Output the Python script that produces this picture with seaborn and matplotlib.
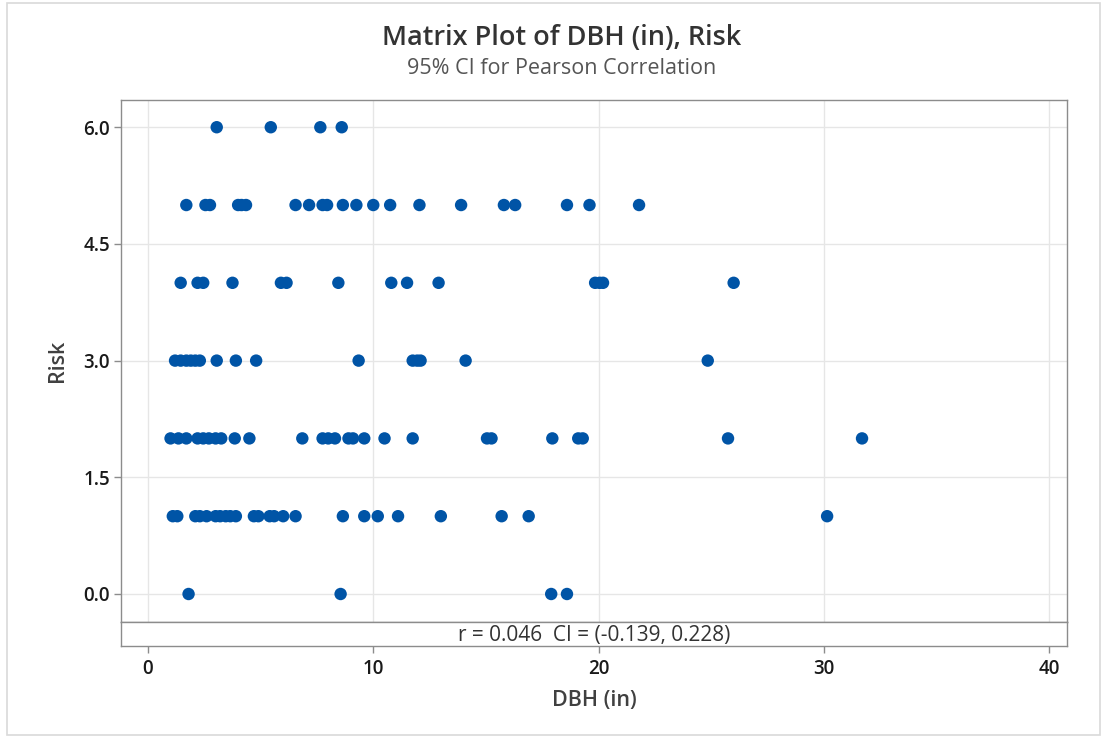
import matplotlib
matplotlib.use("Agg")
import matplotlib.pyplot as plt
import seaborn as sns
import pandas as pd
from matplotlib.patches import Rectangle

# ---- data ----
dbh_risk6 = [3.05, 5.45, 7.65, 8.6]
dbh_risk5 = [1.7, 2.55, 2.75, 4.0, 4.15, 4.35, 6.55, 7.15, 7.75, 7.95, 8.65, 9.25,
             10.0, 10.75, 12.05, 13.9, 15.8, 16.3, 18.6, 19.6, 21.8]
dbh_risk4 = [1.45, 2.2, 2.45, 3.75, 5.9, 6.15, 8.45, 10.8, 11.5, 12.9, 19.85, 20.05,
             20.2, 26.0]
dbh_risk3 = [1.2, 1.45, 1.7, 1.9, 2.1, 2.3, 3.05, 3.9, 4.8, 9.35, 11.75, 11.95, 12.1,
             14.1, 24.85]
dbh_risk2 = [1.0, 1.35, 1.7, 2.2, 2.45, 2.7, 3.0, 3.25, 3.85, 4.5, 6.85, 7.75, 8.0,
             8.3, 8.9, 9.1, 9.6, 10.5, 11.75, 15.05, 15.25, 17.95, 19.1, 19.3, 25.75,
             31.7]
dbh_risk1 = [1.1, 1.3, 2.1, 2.3, 2.6, 3.0, 3.2, 3.45, 3.65, 3.9, 4.7, 4.9, 5.4, 5.6,
             6.0, 6.55, 8.65, 9.6, 10.2, 11.1, 13.0, 15.7, 16.9, 30.15]
dbh_risk0 = [1.8, 8.55, 17.9, 18.6]

risk_levels = [6, 5, 4, 3, 2, 1, 0]
x_ticks = [0, 10, 20, 30, 40]
y_ticks = [0.0, 1.5, 3.0, 4.5, 6.0]
y_tick_labels = ["0.0", "1.5", "3.0", "4.5", "6.0"]

title = "Matrix Plot of DBH (in), Risk"
subtitle = "95% CI for Pearson Correlation"
corr_text = "r = 0.046  CI = (-0.139, 0.228)"

groups = [dbh_risk6, dbh_risk5, dbh_risk4, dbh_risk3, dbh_risk2, dbh_risk1, dbh_risk0]
rows = []
for lvl, vals in zip(risk_levels, groups):
    for v in vals:
        rows.append({"DBH (in)": v, "Risk": lvl})
df = pd.DataFrame(rows)

# ---- styling ----
sns.set_theme(style="white")
plt.rcParams["font.family"] = ["Open Sans", "DejaVu Sans"]

W, H = 1107, 736
fig = plt.figure(figsize=(W / 100, H / 100), dpi=100)

def fx(px):
    return px / W

def fy(py):
    return 1 - py / H

# figure border
fig.patches.append(Rectangle((fx(7), fy(735)), fx(1100) - fx(7), fy(3) - fy(735),
                             transform=fig.transFigure, fill=False,
                             edgecolor="#d9d9d9", linewidth=1.2))

left, right, top, mid, bottom = 121, 1067, 100, 622, 646
ax = fig.add_axes([fx(left), fy(mid), fx(right) - fx(left), fy(top) - fy(mid)])
ax2 = fig.add_axes([fx(left), fy(bottom), fx(right) - fx(left), fy(mid) - fy(bottom)],
                   sharex=ax)

sns.scatterplot(data=df, x="DBH (in)", y="Risk", ax=ax, color="#0054A6",
                s=80, edgecolor="none", linewidth=0, zorder=3)

ax.set_xlim(-1.2, 40.8)
ax.set_ylim(-0.36, 6.35)
ax.set_xticks(x_ticks)
ax.set_yticks(y_ticks)
ax.set_yticklabels(y_tick_labels)
ax.grid(True, color="#e6e6e6", linewidth=1.0, zorder=0)
ax.set_xlabel("")
ax.set_ylabel("Risk", fontsize=15.5, color="#404040", fontweight="semibold", labelpad=11)
ax.tick_params(axis="x", which="both", bottom=False, labelbottom=False)
ax.tick_params(axis="y", direction="out", length=5, width=1, color="#8c8c8c",
               labelsize=13.5, labelcolor="#1a1a1a", pad=3, left=True)
for lab in ax.get_yticklabels():
    lab.set_fontweight("semibold")
for sp in ax.spines.values():
    sp.set_color("#8c8c8c")
    sp.set_linewidth(1.0)

# correlation strip
ax2.set_ylim(0, 1)
ax2.set_yticks([])
ax2.grid(False)
ax2.set_xticks(x_ticks)
ax2.tick_params(axis="x", direction="out", length=5, width=1, color="#8c8c8c",
                labelsize=13.5, labelcolor="#1a1a1a", pad=4, bottom=True)
for lab in ax2.get_xticklabels():
    lab.set_fontweight("semibold")
for sp in ax2.spines.values():
    sp.set_color("#8c8c8c")
    sp.set_linewidth(1.0)
ax2.text(0.5, 0.42, corr_text, transform=ax2.transAxes, ha="center", va="center",
         fontsize=15, color="#333333")
ax2.set_xlabel("DBH (in)", fontsize=15.5, color="#404040", fontweight="semibold",
               labelpad=8)

fig.text(fx(562), fy(38), title, ha="center", va="center", fontsize=19.5,
         color="#333333", fontweight="semibold")
fig.text(fx(562), fy(69), subtitle, ha="center", va="center", fontsize=15.5,
         color="#555555")

fig.savefig("out.png", dpi=100, facecolor="white")
